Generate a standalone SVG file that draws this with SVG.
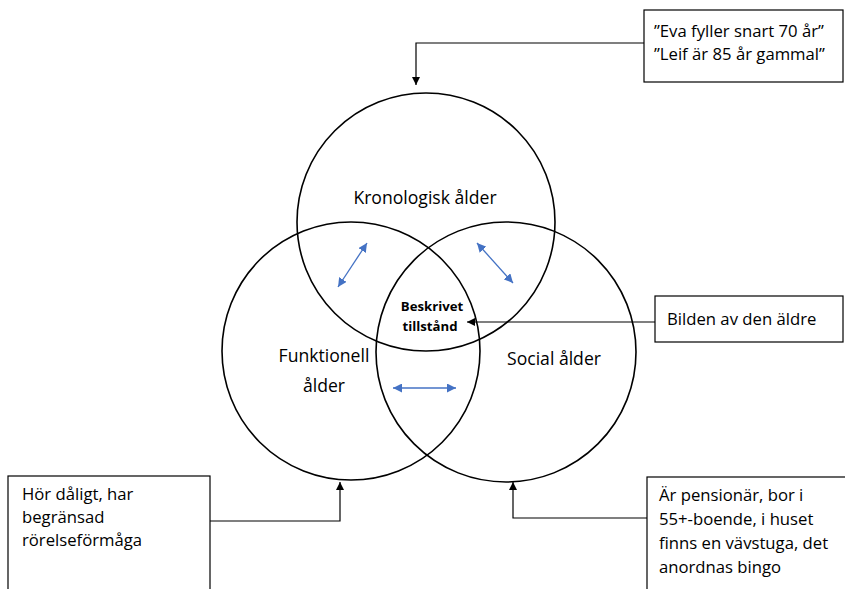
<svg xmlns="http://www.w3.org/2000/svg" width="845" height="589" viewBox="0 0 845 589">
<style>
.c{fill:none;stroke:#000;stroke-width:1.6}
.b{fill:#fff;stroke:#000;stroke-width:1.2}
.l{fill:none;stroke:#000;stroke-width:1.2}
.bl{fill:none;stroke:#4472C4;stroke-width:1.3}
text{font-family:"Open Sans","Liberation Sans",Arial,sans-serif;font-size:16.7px;fill:#000}
.lg{font-size:17.6px}
.bd{font-weight:bold;font-size:13.2px}
</style>
<defs>
<marker id="ah" viewBox="0 0 10 10" refX="10" refY="5" markerWidth="8" markerHeight="8" markerUnits="userSpaceOnUse" orient="auto"><path d="M0,0L10,5L0,10z" fill="#000"/></marker>
<marker id="bh" viewBox="0 0 10 10" refX="10" refY="5" markerWidth="9" markerHeight="9" markerUnits="userSpaceOnUse" orient="auto-start-reverse"><path d="M0,0L10,5L0,10z" fill="#4472C4"/></marker>
</defs>
<rect width="845" height="589" fill="#fff"/>
<g id="circles">
<circle id="kron" class="c" cx="426" cy="222" r="129"/>
<circle id="funk" class="c" cx="351" cy="351" r="129"/>
<circle id="soc" class="c" cx="506" cy="352" r="130"/>
</g>
<g id="labels">
<text class="lg" x="425" y="204" text-anchor="middle">Kronologisk ålder</text>
<text class="lg" x="324" y="362" text-anchor="middle">Funktionell</text>
<text class="lg" x="324" y="392" text-anchor="middle">ålder</text>
<text class="lg" x="554" y="365" text-anchor="middle">Social ålder</text>
<text class="bd" x="432" y="311" text-anchor="middle">Beskrivet</text>
<text class="bd" x="430" y="331" text-anchor="middle">tillstånd</text>
</g>
<g id="box-top">
<rect class="b" x="644" y="10" width="199" height="72"/>
<text x="654" y="37">”Eva fyller snart 70 år”</text>
<text x="654" y="60">”Leif är 85 år gammal”</text>
</g>
<g id="box-bilden">
<rect class="b" x="655" y="296" width="188" height="46"/>
<text x="667" y="325">Bilden av den äldre</text>
</g>
<g id="box-left">
<rect class="b" x="8" y="476" width="202" height="120"/>
<text x="22" y="500">Hör dåligt, har</text>
<text x="22" y="523">begränsad</text>
<text x="22" y="546">rörelseförmåga</text>
</g>
<g id="box-right">
<rect class="b" x="647" y="477" width="200" height="120"/>
<text x="659" y="501">Är pensionär, bor i</text>
<text x="659" y="525">55+-boende, i huset</text>
<text x="659" y="549">finns en vävstuga, det</text>
<text x="659" y="573">anordnas bingo</text>
</g>
<g id="connectors">
<polyline class="l" points="644,43 416,43 416,85" marker-end="url(#ah)"/>
<polyline class="l" points="655,322 467,322" marker-end="url(#ah)"/>
<polyline class="l" points="210,521 340,521 340,482" marker-end="url(#ah)"/>
<polyline class="l" points="647,518 513,518 513,482" marker-end="url(#ah)"/>
<line class="bl" x1="367" y1="243" x2="338" y2="287" marker-start="url(#bh)" marker-end="url(#bh)"/>
<line class="bl" x1="477" y1="243" x2="513" y2="283" marker-start="url(#bh)" marker-end="url(#bh)"/>
<line class="bl" x1="393" y1="388" x2="456" y2="388" marker-start="url(#bh)" marker-end="url(#bh)"/>
</g>
</svg>
